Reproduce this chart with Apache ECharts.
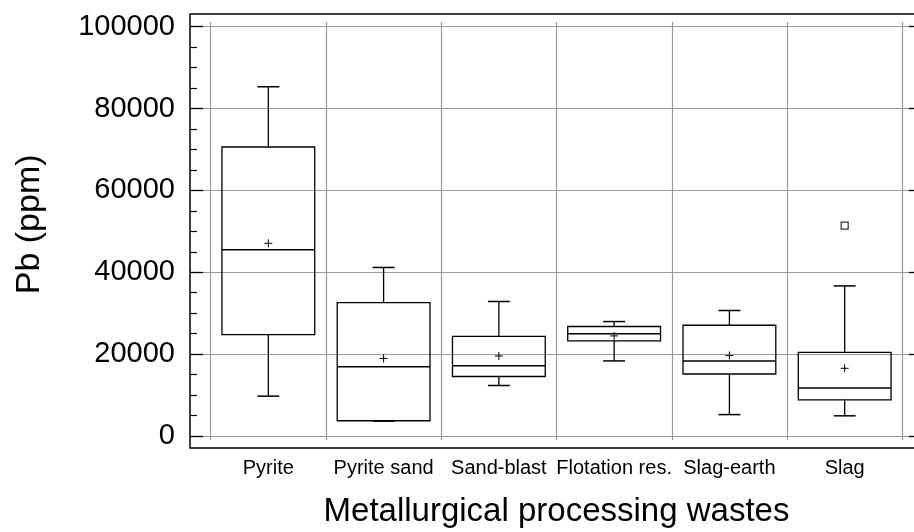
<!DOCTYPE html>
<html>
<head>
<meta charset="utf-8">
<script src="https://cdn.jsdelivr.net/npm/echarts@6/dist/echarts.min.js"></script>
<style>
html,body{margin:0;padding:0;background:#fff;}
#chart{width:914px;height:532px;}
</style>
</head>
<body>
<div id="chart"></div>
<script>
const categories = ['Pyrite', 'Pyrite sand', 'Sand-blast', 'Flotation res.', 'Slag-earth', 'Slag'];
const whiskerLow  = [9700, 3600, 12300, 18300, 5200, 4900];
const q1          = [24700, 3700, 14500, 23200, 15100, 8800];
const median      = [45400, 16900, 17100, 24900, 18300, 11700];
const q3          = [70500, 32500, 24300, 26700, 27000, 20400];
const whiskerHigh = [85200, 41100, 32800, 27900, 30600, 36600];
const means       = [47000, 18900, 19500, 24400, 19600, 16500];
const outliers    = [[5, 51300]];
const yMin = 0, yMax = 100000, yStep = 20000;
const yTitle = 'Pb (ppm)';
const xTitle = 'Metallurgical processing wastes';

const FONT = '"Liberation Sans", Arial, sans-serif';
const GRIDC = '#9a9a9a';

const boxData = categories.map((c, i) => [i, whiskerLow[i], q1[i], median[i], q3[i], whiskerHigh[i], means[i]]);

function renderBox(params, api) {
  const x = api.value(0);
  const band = api.size([1, 0])[0];
  const boxW = band * 0.805;
  const capW = band * 0.19;
  const pMin = api.coord([x, api.value(1)]);
  const pQ1 = api.coord([x, api.value(2)]);
  const pMed = api.coord([x, api.value(3)]);
  const pQ3 = api.coord([x, api.value(4)]);
  const pMax = api.coord([x, api.value(5)]);
  const pMean = api.coord([x, api.value(6)]);
  const cx = pMed[0];
  const ls = { stroke: '#000', lineWidth: 1.3, fill: null };
  const m = 4;
  return {
    type: 'group',
    children: [
      { type: 'rect', shape: { x: cx - boxW / 2, y: pQ3[1], width: boxW, height: pQ1[1] - pQ3[1] }, style: { stroke: '#000', lineWidth: 1.3, fill: 'none' } },
      { type: 'line', shape: { x1: cx - boxW / 2, y1: pMed[1], x2: cx + boxW / 2, y2: pMed[1] }, style: { stroke: '#000', lineWidth: 1.5 } },
      { type: 'line', shape: { x1: cx, y1: pQ3[1], x2: cx, y2: pMax[1] }, style: ls },
      { type: 'line', shape: { x1: cx - capW / 2, y1: pMax[1], x2: cx + capW / 2, y2: pMax[1] }, style: { stroke: '#000', lineWidth: 1.5 } },
      { type: 'line', shape: { x1: cx, y1: pQ1[1], x2: cx, y2: pMin[1] }, style: ls },
      { type: 'line', shape: { x1: cx - capW / 2, y1: pMin[1], x2: cx + capW / 2, y2: pMin[1] }, style: { stroke: '#000', lineWidth: 1.5 } },
      { type: 'line', shape: { x1: pMean[0] - m, y1: pMean[1], x2: pMean[0] + m, y2: pMean[1] }, style: { stroke: '#000', lineWidth: 1 } },
      { type: 'line', shape: { x1: pMean[0], y1: pMean[1] - m, x2: pMean[0], y2: pMean[1] + m }, style: { stroke: '#000', lineWidth: 1 } }
    ]
  };
}

const chart = echarts.init(document.getElementById('chart'), null, { renderer: 'canvas' });
chart.setOption({
  animation: false,
  backgroundColor: '#fff',
  grid: [
    { left: 210.7, right: 11.7, top: 22, bottom: 92, outerBoundsMode: 'none', containLabel: false },
    { left: 190, right: -8, top: 26.7, bottom: 96, outerBoundsMode: 'none', containLabel: false },
    { left: 190, right: -8, top: 14, bottom: 84, show: true, borderColor: '#000', borderWidth: 1.5, backgroundColor: 'transparent', outerBoundsMode: 'none', containLabel: false }
  ],
  xAxis: [
    {
      gridIndex: 0, type: 'category', data: categories, boundaryGap: true,
      axisLine: { show: false }, axisTick: { show: false },
      axisLabel: { interval: 0, margin: 18, fontSize: 20, color: '#000', fontFamily: FONT },
      splitLine: { show: true, interval: 0, lineStyle: { color: GRIDC, width: 1.2 } },
      name: xTitle, nameLocation: 'middle', nameGap: 55,
      nameTextStyle: { fontSize: 33, color: '#000', fontFamily: FONT }
    },
    { gridIndex: 1, type: 'value', show: false, min: 0, max: 1 },
    { gridIndex: 2, type: 'value', show: false, min: 0, max: 1 }
  ],
  yAxis: [
    { gridIndex: 0, type: 'value', min: -1000, max: 101000, show: false },
    {
      gridIndex: 1, type: 'value', min: yMin, max: yMax, interval: yStep, position: 'left',
      axisLine: { show: false },
      axisTick: { show: true, inside: true, length: 13, lineStyle: { color: '#000', width: 1.3 } },
      minorTick: { show: true, splitNumber: 4, length: 7, lineStyle: { color: '#000', width: 1.2 } },
      axisLabel: { margin: 15, fontSize: 29, color: '#000', fontFamily: FONT, formatter: v => String(v) },
      splitLine: { show: true, lineStyle: { color: GRIDC, width: 1.2 } },
      name: yTitle, nameLocation: 'middle', nameGap: 143,
      nameTextStyle: { fontSize: 34, color: '#000', fontFamily: FONT, padding: [0, 0, 0, 14] }
    },
    {
      gridIndex: 1, type: 'value', min: yMin, max: yMax, interval: yStep, position: 'right',
      axisLine: { show: false },
      axisTick: { show: true, inside: true, length: 13, lineStyle: { color: '#000', width: 1.3 } },
      minorTick: { show: true, splitNumber: 4, length: 7, lineStyle: { color: '#000', width: 1.2 } },
      axisLabel: { show: false },
      splitLine: { show: false }
    },
    { gridIndex: 2, type: 'value', show: false, min: 0, max: 1 }
  ],
  series: [
    {
      type: 'custom', xAxisIndex: 0, yAxisIndex: 0,
      renderItem: renderBox,
      encode: { x: 0, y: [1, 2, 3, 4, 5, 6] },
      data: boxData, z: 5
    },
    {
      type: 'scatter', xAxisIndex: 0, yAxisIndex: 0,
      symbol: 'rect', symbolSize: 7,
      itemStyle: { color: '#fff', borderColor: '#000', borderWidth: 1.2 },
      data: outliers, z: 6
    }
  ]
});
</script>
</body>
</html>
